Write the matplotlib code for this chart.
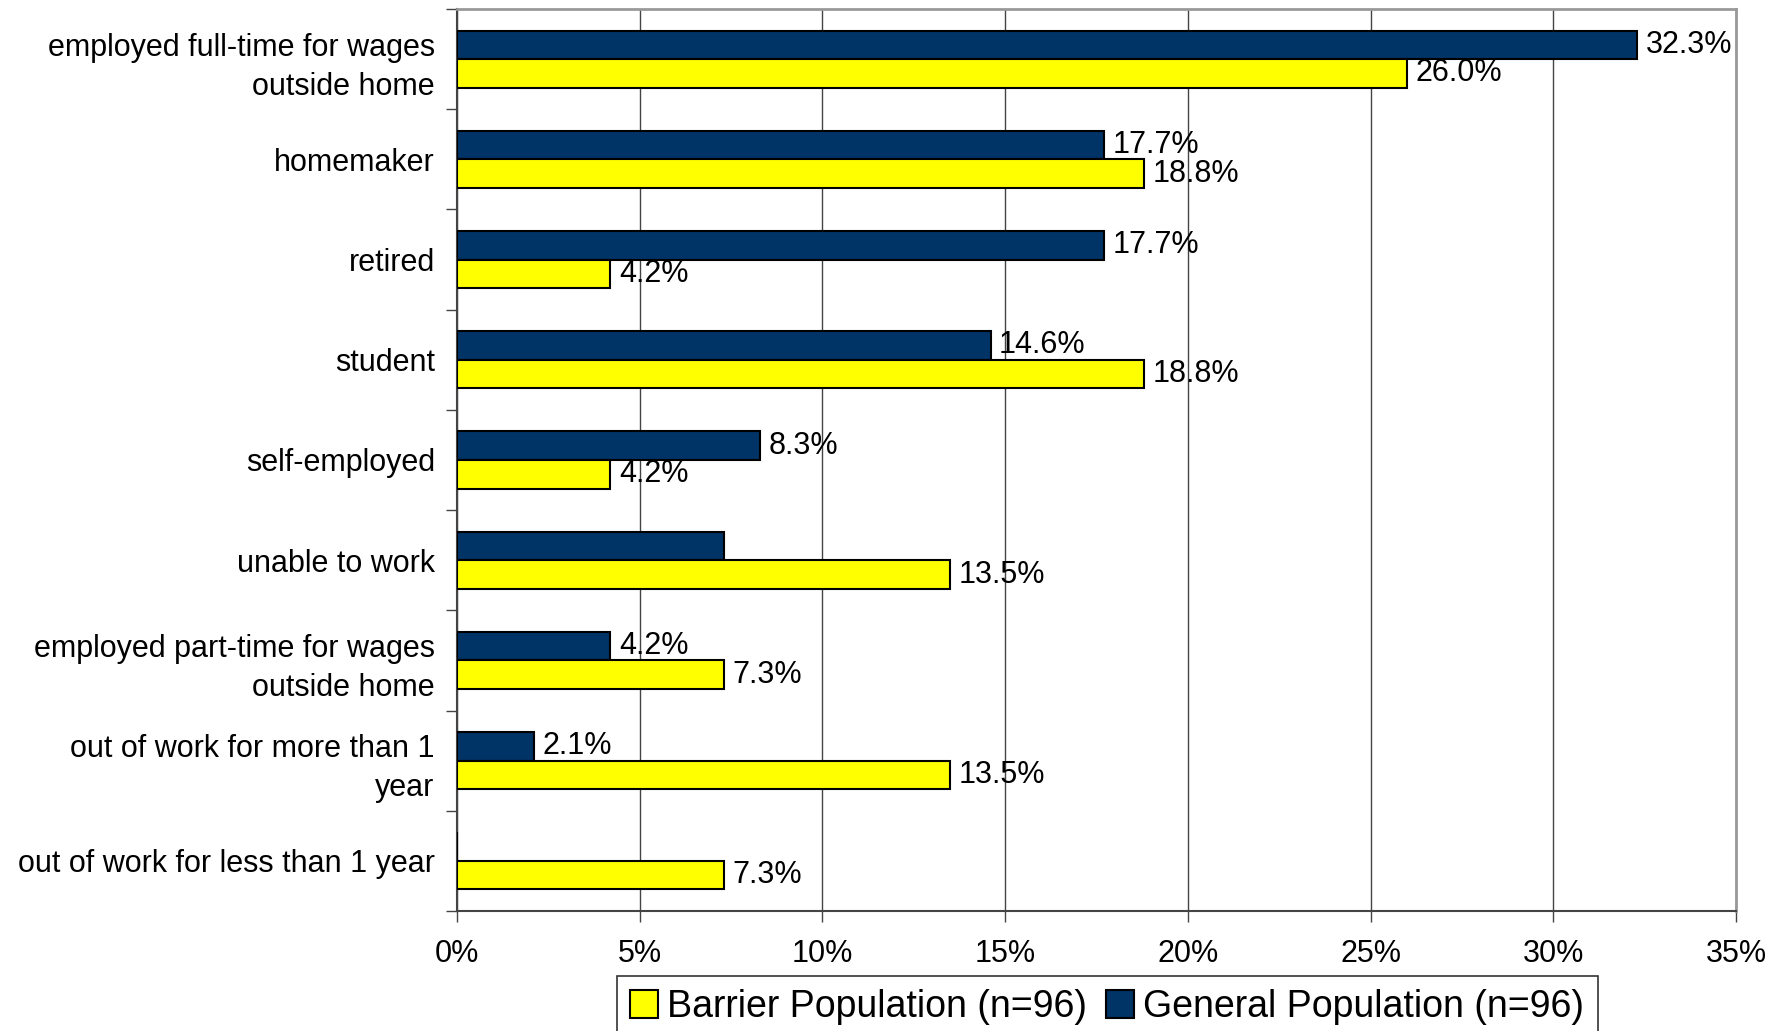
import matplotlib.pyplot as plt
import numpy as np
from matplotlib.ticker import FixedLocator, PercentFormatter

plt.rcParams['font.family'] = ['Liberation Sans', 'DejaVu Sans']

categories = ['employed full-time for wages\noutside home', 'homemaker', 'retired',
              'student', 'self-employed', 'unable to work',
              'employed part-time for wages\noutside home',
              'out of work for more than 1\nyear', 'out of work for less than 1 year']
general = [32.3, 17.7, 17.7, 14.6, 8.3, 7.3, 4.2, 2.1, 0.0]
barrier = [26.0, 18.8, 4.2, 18.8, 4.2, 13.5, 7.3, 13.5, 7.3]
# the source chart leaves some bars unlabelled
general_labels = ['32.3%', '17.7%', '17.7%', '14.6%', '8.3%', '', '4.2%', '2.1%', '']
barrier_labels = ['26.0%', '18.8%', '4.2%', '18.8%', '4.2%', '13.5%', '7.3%', '13.5%', '7.3%']

navy = '#003366'
yellow = '#ffff00'

fig = plt.figure(figsize=(17.87, 10.31), dpi=100)
ax = fig.add_axes([457 / 1787, 1 - 911 / 1031, (1736 - 457) / 1787, (911 - 9) / 1031])

y = np.arange(len(categories))
h = 0.285
gb = ax.barh(y - h / 2, general, height=h, color=navy, edgecolor='black', lw=1.5,
             label='General Population (n=96)', zorder=3)
bb = ax.barh(y + h / 2, barrier, height=h, color=yellow, edgecolor='black', lw=1.5,
             label='Barrier Population (n=96)', zorder=3)
ax.bar_label(gb, labels=general_labels, padding=6, fontsize=22)
ax.bar_label(bb, labels=barrier_labels, padding=6, fontsize=22)

ax.set_xlim(0, 35)
ax.set_ylim(len(categories) - 0.5, -0.5)
ax.set_xticks(np.arange(0, 36, 5))
ax.xaxis.set_major_formatter(PercentFormatter(decimals=0))
ax.set_yticks(y)
ax.set_yticklabels(categories, fontsize=22, linespacing=1.4)
ax.tick_params(axis='y', length=0, pad=16)
ax.yaxis.set_minor_locator(FixedLocator(np.arange(-0.5, len(categories), 1)))
ax.tick_params(axis='y', which='minor', length=8, width=1, color='#444444')
ax.tick_params(axis='x', labelsize=22, length=8, width=1, pad=12, color='#444444')
ax.grid(axis='x', color='#444444', lw=1, zorder=0)

for s in ['left', 'bottom']:
    ax.spines[s].set_color('#444444')
    ax.spines[s].set_linewidth(1.5)
for s in ['top', 'right']:
    ax.spines[s].set_color('#999999')
    ax.spines[s].set_linewidth(2)

handles, lbls = ax.get_legend_handles_labels()
leg = fig.legend(handles[::-1], lbls[::-1], loc='lower center', ncol=2,
                 bbox_to_anchor=(1107 / 1787, -0.025), fontsize=27, frameon=True,
                 fancybox=False, edgecolor='black', handlelength=0.75, handleheight=0.75,
                 handletextpad=0.25, columnspacing=0.5, borderpad=0.35)
leg.get_frame().set_linewidth(1.2)

fig.savefig('out.png', dpi=100)
